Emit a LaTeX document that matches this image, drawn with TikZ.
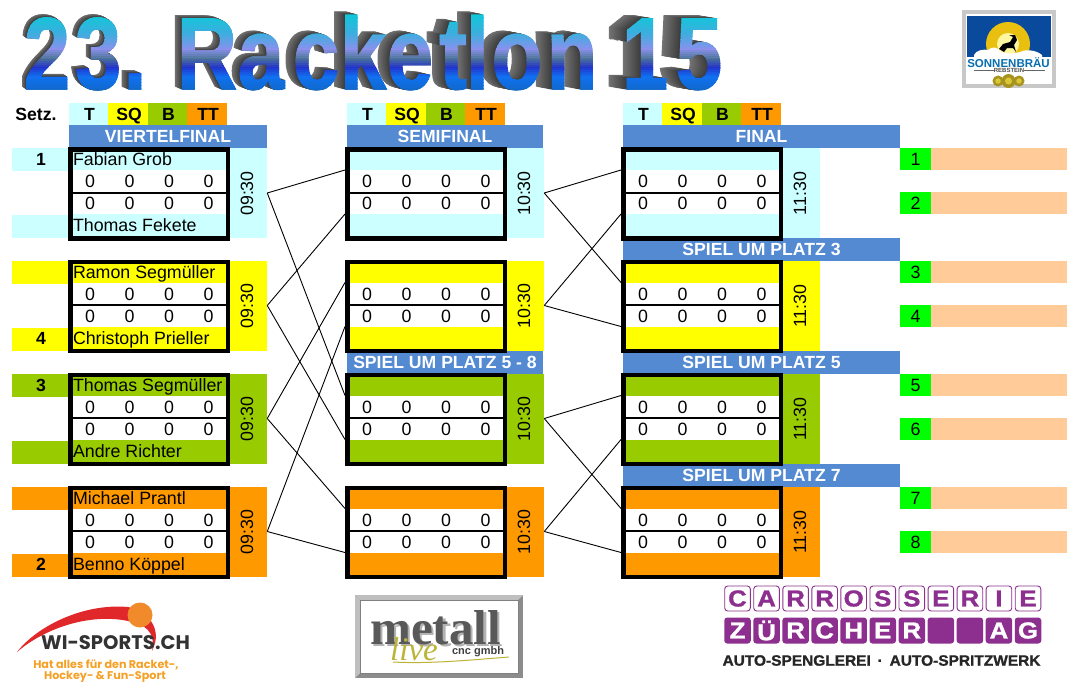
\documentclass[tikz,border=0pt]{standalone}
\usepackage{fontspec}
\setmainfont{Liberation Sans}
\newfontfamily\serifx{Liberation Serif}
\newfontfamily\logofont{Poppins}
\newfontfamily\heavyfont[BoldFeatures={FakeBold=1.2}]{Liberation Sans}
\definecolor{cy}{HTML}{CCFFFF}
\definecolor{ye}{HTML}{FFFF00}
\definecolor{gr}{HTML}{99CC00}
\definecolor{or}{HTML}{FF9900}
\definecolor{hd}{HTML}{538AD2}
\definecolor{lm}{HTML}{00FF00}
\definecolor{pe}{HTML}{FFCC99}
\definecolor{pu}{HTML}{8C2F8E}
\definecolor{sky}{HTML}{0A4A9C}
\definecolor{gA}{HTML}{10C8D8}
\definecolor{gB}{HTML}{40ACE0}
\definecolor{gC}{HTML}{8A90EC}
\definecolor{gD}{HTML}{4E7698}
\definecolor{gE}{HTML}{2232CC}
\definecolor{gF}{HTML}{1070F0}
\definecolor{gG}{HTML}{1068C4}
\definecolor{medalA}{HTML}{A89220}
\definecolor{medalB}{HTML}{D8C838}
\definecolor{sunA}{HTML}{EAC010}
\definecolor{sunB}{HTML}{FFF6A0}
\definecolor{swoosh}{HTML}{E0282A}
\definecolor{ballc}{HTML}{F08A2A}
\definecolor{wiorange}{HTML}{F5A024}
\tikzset{
  every node/.style={inner sep=0pt,outer sep=0pt},
  txt/.style={font=\fontsize{17.8}{18}\selectfont,text=black},
  txb/.style={font=\bfseries\fontsize{17.6}{18}\selectfont,text=black},
  cellbox/.style={fill=#1,draw=none},
  headbar/.style={fill=hd,draw=none,font=\bfseries\fontsize{17.6}{18}\selectfont,text=white,minimum height=23pt,text height=12.6pt,text depth=0pt},
  legend/.style={fill=#1,draw=none,txb,minimum width=39.5pt,minimum height=22pt,text height=12.6pt,text depth=0pt},
  matchframe/.style={draw=black,line width=4.5pt,fill=none,minimum width=157.5pt,minimum height=89pt},
  link/.style={draw=black,line width=0.9pt},
  ttl/.style={anchor=base,font=\heavyfont\bfseries\fontsize{102}{102}\selectfont},
  placebox/.style={fill=lm,txt,minimum width=31pt,minimum height=22pt},
  placebar/.style={fill=pe,minimum width=136pt,minimum height=22pt},
}
\newcommand\letterlist{2/47/4,3/98/5,{.}/135/7,R/207/7,a/261/8,c/316/10,k/363/11,e/410/12,t/453/13,l/477.5/14,o/517/15,n/572/16,1/645/18,5/699/18}
\newcommand\matchbox[5]{% name,x,y0,colour,time
  \node[cellbox=#4,minimum width=162pt,minimum height=22pt] (#1a) at (#2+81,#3+12) {};
  \node[cellbox=#4,minimum width=162pt,minimum height=24pt] (#1b) at (#2+81,#3+79) {};
  \node[cellbox=#4,minimum width=37.5pt,minimum height=90pt] (#1t) at (#2+180.5,#3+46) {};
  \node[txt,rotate=90] (#1tt) at (#2+179,#3+46.5) {#5};
  \foreach \dx in {22,61.5,101,140.5}{
    \node[txt] at (#2+\dx,#3+34.5) {0};
    \node[txt] at (#2+\dx,#3+56.5) {0};
  }
  \node[matchframe] (#1x) at (#2+81,#3+46.75) {};
  \draw[line width=2pt] (#2,#3+45.5) -- (#2+162,#3+45.5);
}
\newcommand\pname[4]{\node[txt,anchor=base west] (#1) at (#2+5,#3) {#4};}
\begin{document}
\begin{tikzpicture}[x=1pt,y=-1pt]
\useasboundingbox (0,0) rectangle (1083,691);
% ---------- title
\foreach \ch/\cx/\dx in \letterlist {
  \foreach \st in {1,0.93,0.87,0.8,0.73,0.67,0.6,0.53,0.47,0.4,0.33,0.27,0.2,0.13,0.07}{
    \pgfmathsetmacro\sh{55+22*(1-\st)}
    \edef\tmpc{\noexpand\colorlet{extc}{black!\sh}}\tmpc
    \node[ttl,text=extc] at (\cx-\dx*\st,89-3*\st) {\scalebox{.82}[1]{\ch}};
  }
}
\foreach \bya/\byb/\bca/\bcb in {14/33/gA/gB,33/48/gB/gC,48/58/gC/gD,58/67/gD/gE,67/76/gE/gF,76/92/gF/gG}{
  \foreach \bp in {0,20,40,60,80}{
    \pgfmathsetmacro\bys{\bya+(\byb-\bya)*\bp/100}
    \pgfmathsetmacro\bye{\bys+(\byb-\bya)/5+0.3}
    \edef\tmpc{\noexpand\colorlet{bandc}{\bcb!\bp!\bca}}\tmpc
    \begin{scope}
      \clip (0,\bys) rectangle (760,\bye);
      \foreach \ch/\cx/\dx in \letterlist {\node[ttl,text=bandc] at (\cx,89) {\scalebox{.82}[1]{\ch}};}
    \end{scope}
  }
}
% ---------- legends and headers
\node[txb] (setz) at (36,114) {Setz.};
\foreach \lx/\nm in {69/a,347/b,623/c}{
  \node[legend=cy] (leg\nm1) at (\lx+19.5,114) {\hspace*{2pt}T};
  \node[legend=ye] (leg\nm2) at (\lx+59,114) {\hspace*{2pt}SQ};
  \node[legend=gr] (leg\nm3) at (\lx+98.5,114) {\hspace*{2pt}B};
  \node[legend=or] (leg\nm4) at (\lx+138,114) {\hspace*{2pt}TT};
}
\node[headbar,minimum width=198pt] (h1) at (168,136.5) {VIERTELFINAL};
\node[headbar,minimum width=196pt] (h2) at (445,136.5) {SEMIFINAL};
\node[headbar,minimum width=277pt] (h3) at (761.5,136.5) {FINAL};
\node[headbar,minimum width=196pt] (h4) at (445,362.5) {SPIEL UM PLATZ 5 - 8};
\node[headbar,minimum width=277pt] (h5) at (761.5,249.5) {SPIEL UM PLATZ 3};
\node[headbar,minimum width=277pt] (h6) at (761.5,362.5) {SPIEL UM PLATZ 5};
\node[headbar,minimum width=277pt] (h7) at (761.5,475.5) {SPIEL UM PLATZ 7};
% ---------- seed strips
\foreach \sy/\sc/\sn in {159/cy/A,226/cy/B,272/ye/C,339/ye/D,385/gr/E,452/gr/F,498/or/G,565/or/H}{
  \node[fill=\sc,minimum width=56pt,minimum height=23pt] (seed\sn) at (40,\sy) {};
}
\node[txb] (s1) at (41,159.5) {1};
\node[txb] (s4) at (41,338.5) {4};
\node[txb] (s3) at (41,385) {3};
\node[txb] (s2) at (41,564.5) {2};
% ---------- matches
\matchbox{q1}{68}{147}{cy}{09:30}
\matchbox{q2}{68}{259.5}{ye}{09:30}
\matchbox{q3}{68}{372.5}{gr}{09:30}
\matchbox{q4}{68}{485.5}{or}{09:30}
\matchbox{m1}{345}{147}{cy}{10:30}
\matchbox{m2}{345}{259.5}{ye}{10:30}
\matchbox{m3}{345}{372.5}{gr}{10:30}
\matchbox{m4}{345}{485.5}{or}{10:30}
\matchbox{f1}{621}{147}{cy}{11:30}
\matchbox{f2}{621}{259.5}{ye}{11:30}
\matchbox{f3}{621}{372.5}{gr}{11:30}
\matchbox{f4}{621}{485.5}{or}{11:30}
\pname{n1}{68}{165.5}{Fabian Grob}
\pname{n2}{68}{231}{Thomas Fekete}
\pname{n3}{68}{278}{Ramon Segmüller}
\pname{n4}{68}{344}{Christoph Prieller}
\pname{n5}{68}{391}{Thomas Segmüller}
\pname{n6}{68}{457}{Andre Richter}
\pname{n7}{68}{504}{Michael Prantl}
\pname{n8}{68}{570}{Benno Köppel}
% ---------- connectors
\foreach \lka/\lkb in {q1/m1a,q1/m3a,q3/m2a,q3/m4a,m1/f1a,m1/f2a,m3/f3a,m3/f4a}{
  \draw[link] (\lka t.east) -- (\lkb.south west);
}
\foreach \lka/\lkb in {q2/m1b,q2/m3b,q4/m2b,q4/m4b,m2/f1b,m2/f2b,m4/f3b,m4/f4b}{
  \draw[link] (\lka t.east) -- (\lkb.north west);
}
% ---------- places
\foreach \n/\py in {1/159,2/203,3/272,4/316,5/385,6/429,7/498,8/542}{
  \node[placebox] (pl\n) at (915.5,\py) {\n};
  \node[placebar,anchor=west] (pb\n) at (pl\n.east) {};
}
% ---------- Sonnenbraeu logo
\node[fill=white,draw={rgb,255:red,200;green,200;blue,200},line width=3.5pt,minimum width=90pt,minimum height=74pt] (sonframe) at (1009,49) {};
\fill[sky] (967,16) rectangle (1051,57);
\begin{scope}
  \clip (967,16) rectangle (1051,54);
  \fill[sunA] (1008,44) circle (22);
  \fill[sunB] (1008,44) circle (11);
\end{scope}
\fill[black] (999,49) -- (1003,44) -- (1010,42) -- (1013,37) -- (1009,35) -- (1015,35) -- (1017,40) -- (1014,45) -- (1016,52) -- (1013,48) -- (1007,48) -- (1004,52) -- cycle;
\fill[white] (974,55) .. controls (976,50) and (984,49) .. (988,50) .. controls (992,46) and (998,47) .. (1001,52) .. controls (1008,54) and (1012,54) .. (1020,52) .. controls (1026,49) and (1036,50) .. (1042,55) -- (1042,57) -- (974,57) -- cycle;
\fill[white] (967,57) rectangle (1051,78);
\node[font=\bfseries\fontsize{11.5}{12}\selectfont,text=sky!80!cyan] (sonname) at (1008.5,62.5) {SONNENBRÄU};
\node[font=\bfseries\fontsize{6}{6}\selectfont,text=black!70] (sonplace) at (1009,70.5) {REBSTEIN};
\draw[black!60,line width=.5pt] (974,70.5) -- (sonplace.west);
\draw[black!60,line width=.5pt] (sonplace.east) -- (1045,70.5);
\foreach \mx/\mr in {998/5.5,1019/5.5,1008.5/7}{
  \fill[medalA] (\mx,81) circle (\mr);
  \fill[medalB] (\mx,81) circle (\mr*.5);
}
% ---------- wi-sports logo
\fill[swoosh] (17,652) .. controls (38,625) and (85,603) .. (128,607) .. controls (146,610) and (164,628) .. (152,651) .. controls (156,632) and (145,624) .. (128,621) .. controls (90,613) and (45,628) .. cycle;
\fill[ballc] (140,615) circle (12.5);
\node[font=\logofont\bfseries\fontsize{19.6}{20}\selectfont,text=black!80,anchor=center] (wisports) at (115.5,642.5) {WI-SPORTS.CH};
\node[font=\logofont\bfseries\fontsize{11.2}{12}\selectfont,text=wiorange] (wi1) at (106,665) {Hat alles für den Racket-,};
\node[font=\logofont\bfseries\fontsize{11.2}{12}\selectfont,text=wiorange] (wi2) at (105,677) {Hockey- \& Fun-Sport};
% ---------- metall logo
\fill[black!45] (355,595) rectangle (523,678);
\fill[black!25] (355,595) -- (523,595) -- (518,600) -- (360,600) -- cycle;
\fill[black!25] (355,595) -- (360,600) -- (360,673) -- (355,678) -- cycle;
\fill[white] (360,600) rectangle (518,673);
\draw[black!50,line width=.7pt] (360,600) rectangle (518,673);
\node[font=\serifx\bfseries\fontsize{49}{49}\selectfont,text=black!30,anchor=base] (metshadow) at (438,646.5) {metall};
\node[font=\serifx\bfseries\fontsize{49}{49}\selectfont,text=black!65,anchor=base] (metname) at (435.5,644) {metall};
\node[font=\serifx\itshape\fontsize{33}{33}\selectfont,text=yellow!70!black,anchor=base] (metlive) at (414,660) {live};
\draw[yellow!70!black,line width=1pt] (393,662) .. controls (430,664) and (470,660) .. (509,657);
\node[font=\bfseries\fontsize{11}{11}\selectfont,text=black!75] (metcnc) at (478,651.5) {cnc gmbh};
% ---------- carrosserie logo
\foreach \L [count=\i from 0] in {C,A,R,R,O,S,S,E,R,I,E}{
  \node[draw=pu,line width=.9pt,rounded corners=3pt,fill=white,minimum width=25.6pt,minimum height=25pt,text=pu,font=\heavyfont\bfseries\fontsize{23}{23}\selectfont] (ca\i) at (737.5+29.05*\i,598.5) {\scalebox{1.12}[1]{\L}};
}
\foreach \L [count=\i from 0] in {Z,Ü,R,C,H,E,R,{},{},A,G}{
  \node[fill=pu,rounded corners=3pt,minimum width=26.5pt,minimum height=26pt,text=white,font=\heavyfont\bfseries\fontsize{23}{23}\selectfont] (zu\i) at (737.5+29.05*\i,630.5) {\scalebox{1.12}[1]{\L}};
}
\node[font=\heavyfont\bfseries\fontsize{15}{15}\selectfont,text=black!85] (carrtext) at (881.5,660.5) {\scalebox{1.03}[1]{AUTO-SPENGLEREI \,·\, AUTO-SPRITZWERK}};
\end{tikzpicture}
\end{document}
